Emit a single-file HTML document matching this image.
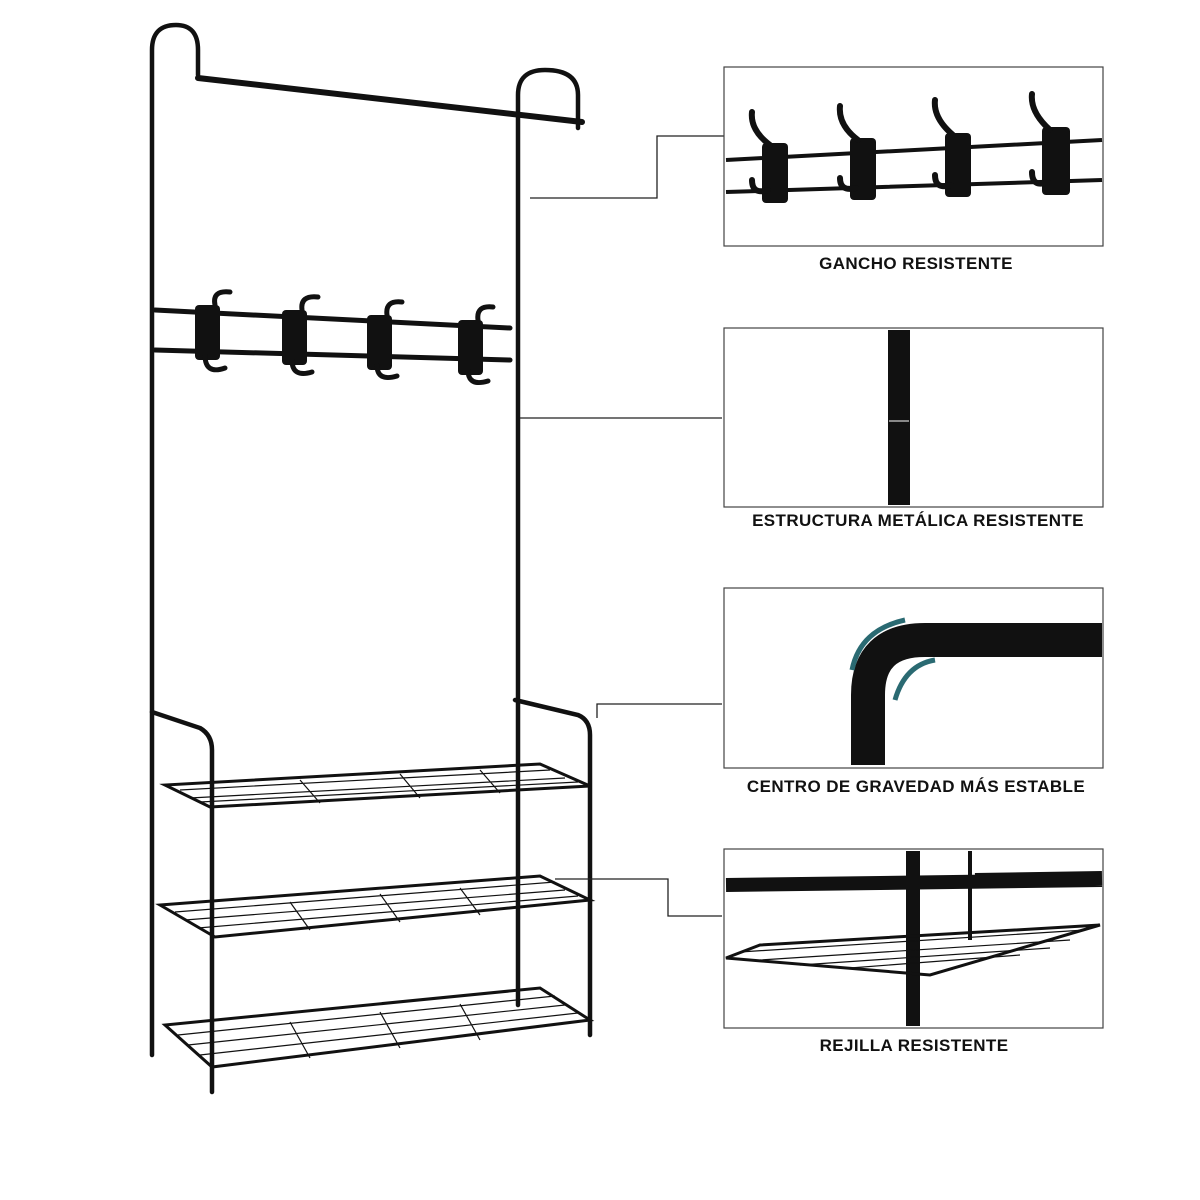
<!DOCTYPE html>
<html><head><meta charset="utf-8"><style>
html,body{margin:0;padding:0;background:#fff;}
svg{display:block}
text{font-family:"Liberation Sans",sans-serif;font-weight:bold;font-size:17px;letter-spacing:0.4px;fill:#111;text-anchor:middle}
</style></head><body>
<svg width="1200" height="1200" viewBox="0 0 1200 1200" xmlns="http://www.w3.org/2000/svg">
<g stroke="#111" fill="none" stroke-width="4.5" stroke-linecap="round">
<path d="M152 1055 L152 50 Q152 25 176 25 Q198 25 198 50 L198 75"/>
<path d="M518 1005 L518 95 Q518 70 545 70 Q578 70 578 95 L578 128"/>
<path d="M198 78 L582 122" stroke-width="6"/>
<path d="M155 310 L510 328 M155 350 L510 360" stroke-width="5"/>
<path d="M152 712 L200 728 Q212 735 212 750 L212 1092"/>
<path d="M515 700 L578 715 Q590 720 590 735 L590 1035"/>
<path d="M165 785 L210 807 L590 786 L540 764 Z" stroke-width="3"/>
<path d="M160 905 L215 937 L590 900 L540 876 Z" stroke-width="3"/>
<path d="M165 1025 L212 1067 L590 1020 L540 988 Z" stroke-width="3"/>
</g>
<g stroke="#111" stroke-width="1.2" fill="none">
<path d="M180 790 L550 770 M190 798 L565 778 M200 802 L578 782 M300 780 L320 803 M400 774 L420 798 M480 770 L500 793"/>
<path d="M175 912 L555 882 M185 920 L565 890 M198 928 L578 896 M290 902 L310 930 M380 894 L400 922 M460 888 L480 915"/>
<path d="M178 1035 L555 996 M188 1045 L565 1005 M200 1055 L578 1013 M290 1022 L310 1058 M380 1012 L400 1048 M460 1004 L480 1040"/>
</g>
<g fill="#111">
<rect x="195" y="305" width="25" height="55" rx="4"/>
<rect x="282" y="310" width="25" height="55" rx="4"/>
<rect x="367" y="315" width="25" height="55" rx="4"/>
<rect x="458" y="320" width="25" height="55" rx="4"/>
</g>
<g stroke="#111" stroke-width="5" fill="none" stroke-linecap="round">
<path d="M215 305 Q212 290 230 292 M205 355 Q205 375 225 368"/>
<path d="M302 310 Q300 295 318 297 M292 360 Q292 378 312 372"/>
<path d="M387 315 Q385 300 402 302 M377 365 Q377 382 397 376"/>
<path d="M478 320 Q476 305 493 307 M468 370 Q468 387 488 381"/>
</g>
<g stroke="#222" stroke-width="1.3" fill="none">
<path d="M530 198 L657 198 L657 136 L724 136"/>
<path d="M520 418 L722 418"/>
<path d="M597 718 L597 704 L722 704"/>
<path d="M555 879 L668 879 L668 916 L722 916"/>
</g>
<g stroke="#444" stroke-width="1.2" fill="#fff">
<rect x="724" y="67" width="379" height="179"/>
<rect x="724" y="328" width="379" height="179"/>
<rect x="724" y="588" width="379" height="180"/>
<rect x="724" y="849" width="379" height="179"/>
</g>
<g stroke="#111" stroke-width="4" fill="none">
<path d="M726 160 L1102 140 M726 192 L1102 180"/>
</g>
<g fill="#111">
<rect x="762" y="143" width="26" height="60" rx="4"/>
<rect x="850" y="138" width="26" height="62" rx="4"/>
<rect x="945" y="133" width="26" height="64" rx="4"/>
<rect x="1042" y="127" width="28" height="68" rx="4"/>
</g>
<g stroke="#111" stroke-width="6" fill="none" stroke-linecap="round">
<path d="M770 145 Q750 130 752 112 M768 190 Q752 195 752 180"/>
<path d="M858 140 Q838 125 840 106 M856 188 Q840 192 840 178"/>
<path d="M953 135 Q933 118 935 100 M951 185 Q935 190 935 175"/>
<path d="M1050 130 Q1030 112 1032 94 M1048 182 Q1032 188 1032 172"/>
</g>
<path d="M899 330 L899 505" stroke="#111" stroke-width="22"/>
<path d="M889 421 L909 421" stroke="#fff" stroke-width="1"/>
<path d="M868 765 L868 695 Q868 640 925 640 L1102 640" stroke="#111" stroke-width="34" fill="none"/>
<path d="M852 670 Q860 630 905 620" stroke="#2a6a72" stroke-width="5" fill="none"/>
<path d="M895 700 Q905 665 935 660" stroke="#2a6a72" stroke-width="5" fill="none"/>
<g stroke="#111" fill="none">
<path d="M726 885 L1102 880 M975 880 L1102 878" stroke-width="14"/>
<path d="M913 851 L913 1026" stroke-width="14"/>
<path d="M970 851 L970 940" stroke-width="4"/>
<path d="M726 958 L930 975 L1100 925 L760 945 Z" stroke-width="3"/>
<path d="M740 952 L1085 930 M760 960 L1070 940 M800 965 L1050 948 M850 968 L1020 955" stroke-width="1.2"/>
</g>
<text x="916" y="269">GANCHO RESISTENTE</text>
<text x="918" y="526">ESTRUCTURA METÁLICA RESISTENTE</text>
<text x="916" y="792">CENTRO DE GRAVEDAD MÁS ESTABLE</text>
<text x="914" y="1051">REJILLA RESISTENTE</text>
</svg>
</body></html>
